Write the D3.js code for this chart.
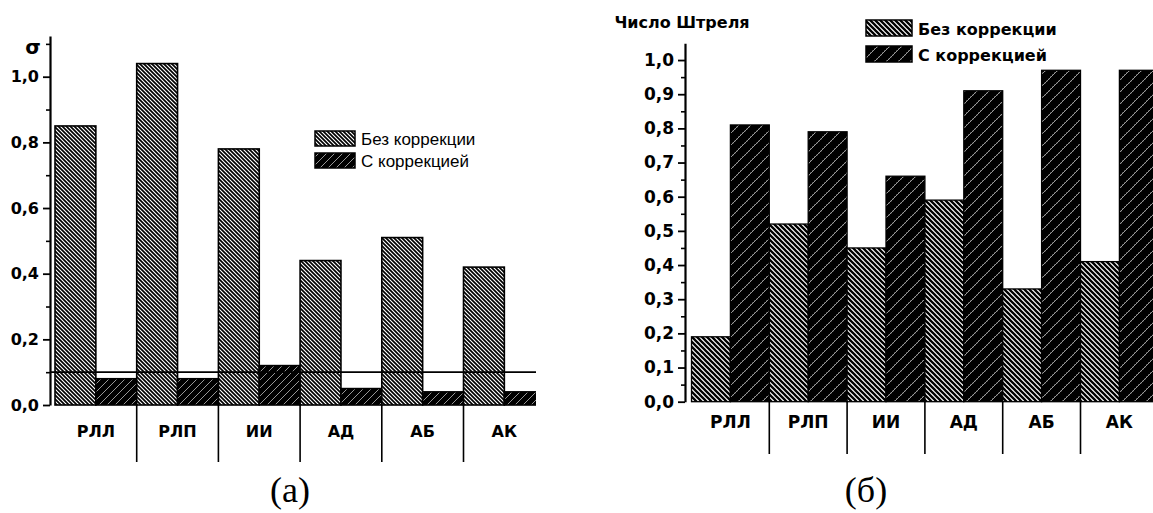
<!DOCTYPE html>
<html><head><meta charset="utf-8">
<script src="https://cdn.jsdelivr.net/npm/d3@7"></script>
<style>
html,body{margin:0;padding:0;background:#fff;}
svg{display:block;}
</style></head>
<body>
<svg id="c" width="1153" height="513"></svg>
<script>
// ---- data ----
const categories = ["РЛЛ", "РЛП", "ИИ", "АД", "АБ", "АК"];
const seriesNames = ["Без коррекции", "С коррекцией"];
// (a) sigma
const sigmaNoCorr = [0.85, 1.04, 0.78, 0.44, 0.51, 0.42];
const sigmaCorr   = [0.08, 0.08, 0.12, 0.05, 0.04, 0.04];
const sigmaThreshold = 0.1;
const sigmaTicks = [0.0, 0.2, 0.4, 0.6, 0.8, 1.0];
const sigmaMinorTicks = [0.1, 0.3, 0.5, 0.7, 0.9, 1.1];
// (б) Strehl
const strehlNoCorr = [0.19, 0.52, 0.45, 0.59, 0.33, 0.41];
const strehlCorr   = [0.81, 0.79, 0.66, 0.91, 0.97, 0.97];
const strehlTicks = [0.0, 0.1, 0.2, 0.3, 0.4, 0.5, 0.6, 0.7, 0.8, 0.9, 1.0];
const strehlMinorTicks = [0.05, 0.15, 0.25, 0.35, 0.45, 0.55, 0.65, 0.75, 0.85, 0.95];

const svg = d3.select("#c");
const defs = svg.append("defs");
const fmt = v => d3.format(".1f")(v).replace(".", ",");

// tile-based diagonal patterns; dir "\\" or "/"
function diagPattern(id, size, dir, bg, fg, sw, extra) {
  const p = defs.append("pattern").attr("id", id).attr("patternUnits", "userSpaceOnUse")
    .attr("width", size).attr("height", size);
  p.append("rect").attr("width", size).attr("height", size).attr("fill", bg);
  const s = size;
  const d = dir === "\\"
    ? `M${-s},0L${s},${2*s}M0,${-s}L${2*s},${s}M${-s},${-s}L${2*s},${2*s}`
    : `M0,${2*s}L${2*s},0M${-s},${s}L${s},${-s}M${-s},${2*s}L${2*s},${-s}`;
  p.append("path").attr("d", d).attr("stroke", fg).attr("stroke-width", sw).attr("fill", "none");
  if (extra) extra(p, s);
  return p;
}
diagPattern("noA", 4, "\\", "#fff", "#000", 1.7);
diagPattern("corA", 8, "/", "#000", "#a8a8a8", 0.9);
diagPattern("noB", 5, "\\", "#fff", "#000", 2.3);
diagPattern("corB", 12, "/", "#000", "#b0b0b0", 0.9, (p, s) => {
  // dotted secondary diagonal
  [[7,4],[9,2],[11,0],[1,6],[3,4.],[5,2]].forEach(([x, y], i) => {
    if (i < 3) p.append("rect").attr("x", x - 0.5).attr("y", y + 0.5 - 0.5 + 0).attr("width", 1).attr("height", 1).attr("fill", "#8a8a8a");
  });
  [[1,11],[3,9],[5,7]].forEach(([x, y]) => {
    p.append("rect").attr("x", x - 0.5).attr("y", y - 0.5).attr("width", 1).attr("height", 1).attr("fill", "#8a8a8a");
  });
});

function drawChart(o) {
  const g = svg.append("g");
  const x = d3.scaleBand().domain(categories).range([o.x0, o.x0 + o.catW * categories.length]).paddingInner(0).paddingOuter(0);
  const xs = d3.scaleBand().domain(seriesNames).range([0, x.bandwidth()]);
  const y = d3.scaleLinear().domain([0, o.yMax]).range([o.yBase, o.yTop]);

  const clipId = "clip" + o.id;
  defs.append("clipPath").attr("id", clipId).append("rect")
    .attr("x", o.axisX).attr("y", 0).attr("width", o.clipRight - o.axisX).attr("height", 513);

  const rows = categories.map((c, i) => ({ c, vals: [o.no[i], o.corr[i]] }));
  const bars = g.append("g").attr("clip-path", `url(#${clipId})`);
  rows.forEach(r => {
    r.vals.forEach((v, j) => {
      bars.append("rect")
        .attr("x", x(r.c) + xs(seriesNames[j]))
        .attr("y", y(v))
        .attr("width", xs.bandwidth())
        .attr("height", y(0) - y(v))
        .attr("fill", `url(#${o.fills[j]})`)
        .attr("stroke", "#000").attr("stroke-width", o.barStroke);
    });
  });

  if (o.threshold != null) {
    g.append("line").attr("x1", o.axisX).attr("x2", o.clipRight)
      .attr("y1", y(o.threshold)).attr("y2", y(o.threshold))
      .attr("stroke", "#000").attr("stroke-width", 1.6);
  }

  // y axis
  const ax = g.append("g").attr("transform", `translate(${o.axisX},0)`)
    .call(d3.axisLeft(y).tickValues(o.ticks).tickFormat(fmt).tickSize(7).tickSizeOuter(0).tickPadding(4));
  ax.select(".domain").attr("stroke-width", 2.2);
  ax.selectAll(".tick line").attr("stroke-width", 1.8);
  ax.selectAll("text").attr("font-family", "DejaVu Sans").attr("font-weight", "bold")
    .attr("font-size", o.tickFont).attr("fill", "#000");
  const axm = g.append("g").attr("transform", `translate(${o.axisX},0)`)
    .call(d3.axisLeft(y).tickValues(o.minor).tickFormat("").tickSize(4).tickSizeOuter(0));
  axm.select(".domain").remove();
  axm.selectAll(".tick line").attr("stroke-width", 1.6);

  // category separators
  categories.slice(1).forEach(c => {
    g.append("line").attr("x1", x(c)).attr("x2", x(c))
      .attr("y1", o.yBase).attr("y2", o.sepBottom)
      .attr("stroke", "#000").attr("stroke-width", 1.6);
  });
  // category labels
  categories.forEach(c => {
    g.append("text").attr("x", x(c) + x.bandwidth() / 2).attr("y", o.catLabelY)
      .attr("text-anchor", "middle").attr("font-family", "DejaVu Sans").attr("font-weight", "bold")
      .attr("font-size", o.catFont).text(c);
  });

  // legend
  seriesNames.forEach((s, j) => {
    const ly = o.legY + j * o.legStep;
    g.append("rect").attr("x", o.legX).attr("y", ly).attr("width", o.legW).attr("height", o.legH)
      .attr("fill", `url(#${o.fills[j]})`).attr("stroke", "#000").attr("stroke-width", 1.5);
    g.append("text").attr("x", o.legX + o.legW + o.legGap).attr("y", ly + o.legH - 1)
      .attr("font-family", o.legFamily).attr("font-weight", o.legWeight)
      .attr("font-size", o.legFont).text(s);
  });
  return g;
}

drawChart({
  id: "a", x0: 55, catW: 81.7, axisX: 50, clipRight: 536,
  yBase: 405, yTop: 36, yMax: 1.124,
  no: sigmaNoCorr, corr: sigmaCorr, fills: ["noA", "corA"], barStroke: 1.6,
  threshold: sigmaThreshold, ticks: sigmaTicks, minor: sigmaMinorTicks,
  tickFont: 16, sepBottom: 462, catLabelY: 437, catFont: 16,
  legX: 315, legY: 131, legStep: 22, legW: 40, legH: 15, legGap: 6,
  legFamily: "Liberation Sans", legWeight: "normal", legFont: 17
});
drawChart({
  id: "b", x0: 691.5, catW: 77.8, axisX: 685, clipRight: 1160,
  yBase: 401.7, yTop: 43.3, yMax: 1.049,
  no: strehlNoCorr, corr: strehlCorr, fills: ["noB", "corB"], barStroke: 1.3,
  threshold: null, ticks: strehlTicks, minor: strehlMinorTicks,
  tickFont: 17, sepBottom: 454, catLabelY: 428, catFont: 17,
  legX: 866, legY: 20, legStep: 26, legW: 46, legH: 16, legGap: 6,
  legFamily: "DejaVu Sans", legWeight: "bold", legFont: 16
});

// axis titles
svg.append("text").attr("x", 33).attr("y", 54).attr("text-anchor", "middle")
  .attr("font-family", "DejaVu Sans").attr("font-weight", "bold").attr("font-size", 20).text("σ");
svg.append("text").attr("x", 682).attr("y", 28).attr("text-anchor", "middle")
  .attr("font-family", "DejaVu Sans").attr("font-weight", "bold").attr("font-size", 16).text("Число Штреля");

// captions
svg.append("text").attr("x", 290).attr("y", 502).attr("text-anchor", "middle")
  .attr("font-family", "Liberation Serif").attr("font-size", 36).text("(а)");
svg.append("text").attr("x", 866).attr("y", 502).attr("text-anchor", "middle")
  .attr("font-family", "Liberation Serif").attr("font-size", 36).text("(б)");
</script>
</body></html>
